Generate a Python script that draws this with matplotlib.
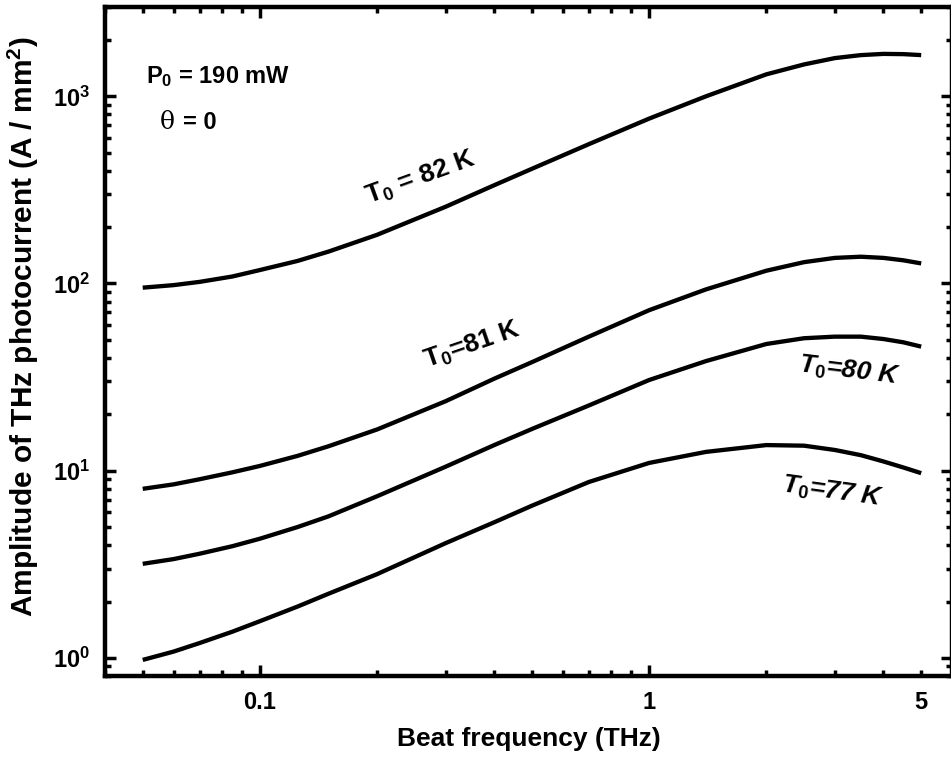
import matplotlib
matplotlib.use("Agg")
import matplotlib.pyplot as plt
from matplotlib.ticker import LogLocator, FixedLocator, FuncFormatter, NullFormatter

plt.rcParams['font.family'] = ['Liberation Sans', 'DejaVu Sans']
plt.rcParams['font.weight'] = 'bold'
plt.rcParams['mathtext.fontset'] = 'custom'
plt.rcParams['mathtext.rm'] = 'Liberation Sans:bold'
plt.rcParams['mathtext.bf'] = 'Liberation Sans:bold'
plt.rcParams['mathtext.it'] = 'Liberation Sans:bold:italic'
plt.rcParams['mathtext.default'] = 'rm'

freq = [0.05, 0.06, 0.07, 0.085, 0.1, 0.125, 0.15, 0.2, 0.3, 0.4, 0.5, 0.7, 1.0, 1.4, 2.0, 2.5, 3.0, 3.5, 4.0, 4.5, 5.0]
amp_82K = [95, 98, 102, 109, 118, 132, 148, 182, 257, 335, 410, 555, 760, 1000, 1310, 1480, 1600, 1660, 1685, 1680, 1660]
amp_81K = [8.0, 8.45, 9.0, 9.8, 10.6, 12.0, 13.5, 16.6, 23.5, 31, 38, 52, 72, 93, 117, 130, 137, 139, 137, 133, 128]
amp_80K = [3.18, 3.37, 3.6, 3.95, 4.33, 5.0, 5.7, 7.3, 10.5, 13.7, 16.7, 22.3, 30.5, 38.5, 47.5, 51, 52, 52, 50.5, 48.5, 46]
amp_77K = [0.975, 1.08, 1.2, 1.38, 1.57, 1.88, 2.2, 2.8, 4.1, 5.3, 6.5, 8.7, 11.0, 12.6, 13.7, 13.6, 12.9, 12.1, 11.2, 10.4, 9.7]

x_major = [0.1, 1]
x_labeled_minor = [5]
y_major = [1, 10, 100, 1000]
y_labels = [r'$10^{0}$', r'$10^{1}$', r'$10^{2}$', r'$10^{3}$']

fig = plt.figure(figsize=(9.51, 7.57), dpi=100)
ax = fig.add_axes([105/951, 1-676/757, (952-105)/951, (676-7)/757])
ax.set_xscale('log')
ax.set_yscale('log')
ax.set_xlim(0.04, 6)
ax.set_ylim(0.8, 3000)

lw = 3.1
for a in (amp_82K, amp_81K, amp_80K, amp_77K):
    ax.plot(freq, a, color='black', lw=lw, solid_capstyle='butt', solid_joinstyle='round')

for s in ax.spines.values():
    s.set_linewidth(3.2)

ax.xaxis.set_major_locator(FixedLocator(x_major))
ax.xaxis.set_minor_locator(LogLocator(base=10, subs=[2, 3, 4, 5, 6, 7, 8, 9]))
ax.xaxis.set_major_formatter(FuncFormatter(lambda v, p: '%g' % v))
ax.xaxis.set_minor_formatter(FuncFormatter(lambda v, p: '%g' % v if any(abs(v - t) < 1e-6 for t in x_labeled_minor) else ''))
ax.yaxis.set_major_locator(FixedLocator(y_major))
ax.set_yticklabels(y_labels)
ax.yaxis.set_minor_locator(LogLocator(base=10, subs=[2, 3, 4, 5, 6, 7, 8, 9]))
ax.yaxis.set_minor_formatter(NullFormatter())

ax.tick_params(which='both', direction='in', top=True, right=True, labelsize=17, width=2.5)
ax.tick_params(which='major', length=8, pad=11)
ax.tick_params(which='minor', length=4, pad=11)

ax.set_xlabel('Beat frequency (THz)', fontsize=19, fontweight='bold', labelpad=9)
ax.set_ylabel(r'Amplitude of THz photocurrent (A / mm$^{2}$)', fontsize=21.5, fontweight='bold')
ax.yaxis.set_label_coords(-0.075, 0.522)

ax.text(0.0509, 1175, r'$\mathrm{P_0}$ = 190 mW', fontsize=17, fontweight='bold', va='baseline', ha='left')
ax.text(0.0553, 667, 'θ', fontsize=18, family='DejaVu Serif', fontweight='normal', va='baseline', ha='left')
ax.text(0.0635, 667, '= 0', fontsize=17, fontweight='bold', va='baseline', ha='left')

ax.text(0.258, 365, r'$\mathrm{T_0}$ = 82 K', fontsize=19, fontweight='bold', rotation=20, ha='center', va='center', rotation_mode='anchor')
ax.text(0.351, 46.9, r'$\mathrm{T_0}$=81 K', fontsize=19, fontweight='bold', rotation=19, ha='center', va='center', rotation_mode='anchor')
ax.text(3.27, 34.1, r'$\mathit{T_0}$=80 K', fontsize=19, fontweight='bold', style='italic', rotation=-7, ha='center', va='center', rotation_mode='anchor')
ax.text(2.95, 7.7, r'$\mathit{T_0}$=77 K', fontsize=19, fontweight='bold', style='italic', rotation=-8, ha='center', va='center', rotation_mode='anchor')

fig.savefig('out.png', dpi=100)
